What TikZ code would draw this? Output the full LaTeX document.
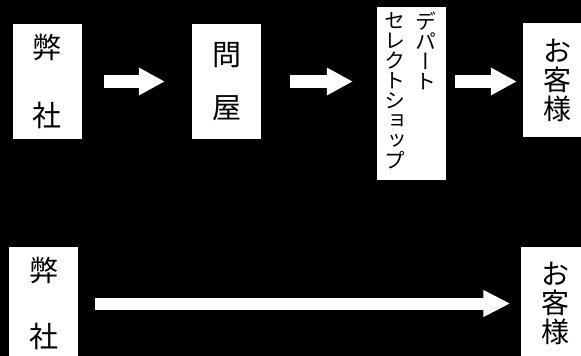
\documentclass[tikz,border=0pt]{standalone}
\usepackage{fontspec}
\newfontfamily\jp{Noto Sans CJK JP}
\newfontfamily\jpv[RawFeature=+vert]{Noto Sans CJK JP}
\newcommand\kanafont{\jpv\fontsize{21}{20}\selectfont\lineskiplimit=-20pt\relax}
\usetikzlibrary{arrows.meta,positioning}

\begin{document}
\begin{tikzpicture}[x=1pt,y=-1pt,
			box/.style={fill=white,inner sep=0pt,minimum width=69pt,align=center,text=black},
			kana/.style={inner sep=0pt,align=center,text=black,font=\kanafont},
			flow/.style={draw=white,line width=13pt,-{Triangle[length=26pt,width=26pt]}}]
			\fill[black] (0,0) rectangle (581,356);
			\useasboundingbox (0,0) rectangle (581,356);
			% upper route
			\node[box,minimum height=115pt,font=\jp\fontsize{29}{68}\selectfont] (us) at (47,81.5) {弊\\社};
			\node[box,minimum height=115pt,font=\jp\fontsize{29}{53}\selectfont] (ton) at (226.5,81.5) {問\\屋};
			\node[box,minimum height=173pt] (shop) at (411.5,93.5) {};
			\node[kana,anchor=north] (dept) at (426,12) {デ\\パ\\ー\\ト};
			\node[kana,anchor=north] (sel) at (395,12) {セ\\レ\\ク\\ト\\シ\\ョ\\ッ\\プ};
			\node[box,minimum height=114pt,font=\jp\fontsize{28}{29}\selectfont] (cust) at (557.5,80) {お\\客\\様};
			\draw[flow,shorten <=22pt,shorten >=27pt] (us.east) -- (ton.west);
			\draw[flow,shorten <=29pt,shorten >=24pt] (ton.east) -- (ton.east -| shop.west);
			\draw[flow,shorten <=9pt,shorten >=6pt] (shop.east |- ton.east) -- (cust.west |- ton.east);
			% direct route
			\node[box,minimum height=113pt,font=\jp\fontsize{29}{66}\selectfont] (us2) at (43.5,303.5) {弊\\社};
			\node[box,minimum height=113pt,font=\jp\fontsize{28}{29}\selectfont] (cust2) at (555,303.5) {お\\客\\様};
			\draw[flow,line width=12pt,-{Triangle[length=27pt,width=25pt]},shorten <=17pt,shorten >=10pt] (us2.east) -- (cust2.west);
		\end{tikzpicture}
\end{document}
